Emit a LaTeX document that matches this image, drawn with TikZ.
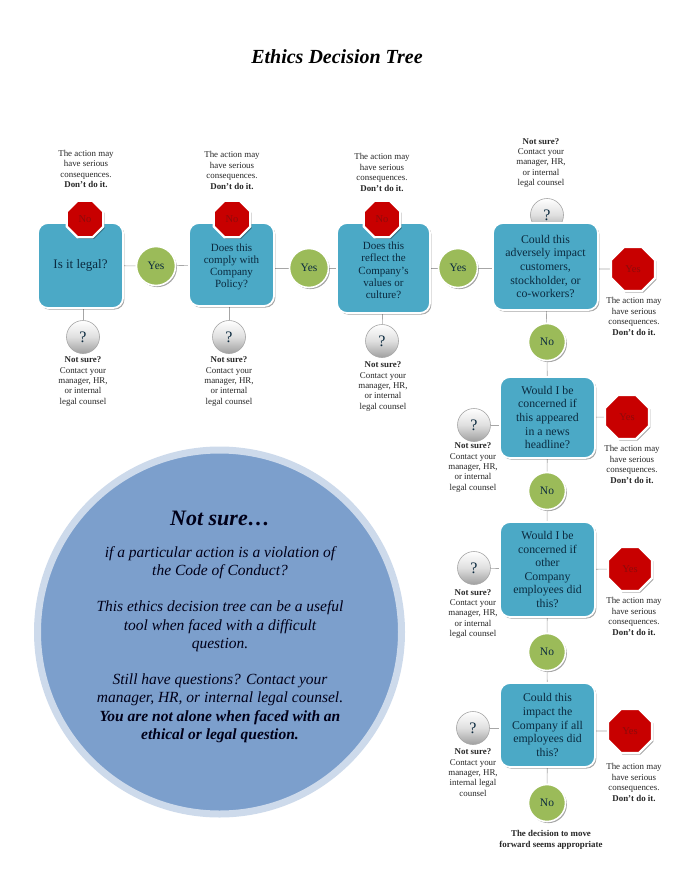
\documentclass[tikz,border=0pt]{standalone}
\usepackage{fontspec}
\setmainfont{Liberation Serif}
\usepackage{tikz}
\usetikzlibrary{shapes.geometric,shadows,backgrounds}
\definecolor{boxblue}{HTML}{4BA9C6}
\definecolor{yesgreen}{HTML}{9BBB59}
\definecolor{stopred}{HTML}{C80000}
\definecolor{stoptext}{HTML}{8E0A0A}
\definecolor{darktext}{HTML}{0B2A3F}
\definecolor{discblue}{HTML}{7C9FCC}
\definecolor{discring}{HTML}{CDDAEB}
\newcommand{\dontdo}{The action may\\have serious\\consequences.\\\textbf{Don’t do it.}}
\newcommand{\notsure}{\textbf{Not sure?}\\Contact your\\manager, HR,\\or internal\\legal counsel}

\begin{document}
\begin{tikzpicture}[x=1pt, y=-1pt,
    softshadow/.style={drop shadow={shadow xshift=1.4pt, shadow yshift=-1.6pt, opacity=0.35, fill=black}},
    question/.style={rectangle, rounded corners=10pt, fill=boxblue, draw=white, line width=1.8pt, softshadow,
        inner sep=0pt, align=center, text=darktext, font=\fontsize{11.8}{13.6}\selectfont},
    narrow text/.style={font=\fontsize{11}{12.2}\selectfont},
    answer/.style={circle, fill=yesgreen, draw=white, line width=1.6pt, softshadow, minimum size=39pt,
        inner sep=0pt, text=darktext, font=\fontsize{11.5}{12}\selectfont},
    stopsign/.style={regular polygon, regular polygon sides=8, fill=stopred, draw=white,
        line width=2.2pt, softshadow, inner sep=0pt, text=stoptext, font=\fontsize{10.5}{12}\selectfont},
    small stop/.style={stopsign, minimum size=39.5pt},
    big stop/.style={stopsign, minimum size=47.5pt},
    unsure/.style={circle, top color=white, bottom color=gray!75, middle color=gray!25, draw=gray!70, line width=0.6pt,
        minimum size=33pt, inner sep=0pt, text=darktext, font=\fontsize{16}{17}\selectfont},
    note/.style={align=center, inner sep=0pt, text=black!85, font=\fontsize{8.9}{10.4}\selectfont},
    link/.style={draw=gray!70, line width=0.6pt}]
    \useasboundingbox (0,0) rectangle (680,880);

    % Title
    \node[inner sep=0pt, font=\fontsize{20}{24}\selectfont\bfseries\itshape] (title) at (337,57) {Ethics Decision Tree};

    % Disc with the advice
    \node[circle, fill=discblue, draw=discring, line width=7pt, minimum size=364pt, inner sep=0pt] (disc) at (219.5,632) {};
    \node[inner sep=0pt, text=black!90!blue, font=\fontsize{22}{26}\selectfont\bfseries\itshape] (disctitle) at (220,518) {Not sure…};
    \node[align=center, inner sep=0pt, text=black!90!blue, font=\fontsize{15.5}{18.2}\selectfont\itshape] (disctext) at (220,644.5)
        {if a particular action is a violation of\\the Code of Conduct?\\[18.2pt]
         This ethics decision tree can be a useful\\tool when faced with a difficult\\question.\\[18.2pt]
         Still have questions? Contact your\\manager, HR, or internal legal counsel.\\
         \textbf{You are not alone when faced with an}\\\textbf{ethical or legal question.}};

    % Top row
    \node[question, minimum width=85pt, minimum height=85pt, font=\fontsize{13}{14}\selectfont] (box1) at (80.5,265.5) {Is it legal?};
    \node[small stop] (stop1) at (85,219) {No};
    \node[answer] (yes1) at (156,266) {Yes};
    \node[unsure] (ask1) at (83,337) {?};
    \node[note] (warn1) at (86,169) {\dontdo};
    \node[note] (help1) at (83,381.5) {\notsure};

    \node[question, narrow text, minimum width=85pt, minimum height=83pt] (box2) at (231.5,264.5) {\\Does this\\comply with\\Company\\Policy?};
    \node[small stop] (stop2) at (232,219) {No};
    \node[answer] (yes2) at (309,268) {Yes};
    \node[unsure] (ask2) at (229,337) {?};
    \node[note] (warn2) at (232,170.5) {\dontdo};
    \node[note] (help2) at (229,381.5) {\notsure};

    \node[question, narrow text, minimum width=93pt, minimum height=90pt] (box3) at (383.5,268) {\\Does this\\reflect the\\Company’s\\values or\\culture?};
    \node[small stop] (stop3) at (382,219) {No};
    \node[answer] (yes3) at (458,268) {Yes};
    \node[unsure] (ask3) at (382,341) {?};
    \node[note] (warn3) at (382,172.5) {\dontdo};
    \node[note] (help3) at (383,386.5) {\notsure};

    \node[unsure] (ask4) at (547,215) {?};
    \node[question, minimum width=105pt, minimum height=87pt] (box4) at (545.5,266.5) {Could this\\adversely impact\\customers,\\stockholder, or\\co-workers?};
    \node[big stop] (stop4) at (633,269) {Yes};
    \node[answer, minimum size=37pt] (no4) at (547,342) {No};
    \node[note] (help4) at (541,163) {\notsure};
    \node[note] (warn4) at (634,316.5) {\dontdo};

    % Right column
    \node[question, minimum width=95pt, minimum height=81pt] (box5) at (547.5,417.5) {Would I be\\concerned if\\this appeared\\in a news\\headline?};
    \node[big stop] (stop5) at (627,417) {Yes};
    \node[answer, minimum size=37pt] (no5) at (547,491) {No};
    \node[unsure] (ask5) at (474,425) {?};
    \node[note] (help5) at (473,467.5) {\notsure};
    \node[note] (warn5) at (632,464.5) {\dontdo};

    \node[question, minimum width=95pt, minimum height=95pt] (box6) at (547.5,569.5) {Would I be\\concerned if\\other\\Company\\employees did\\this?};
    \node[big stop] (stop6) at (630,569) {Yes};
    \node[answer, minimum size=37pt] (no6) at (547,652) {No};
    \node[unsure] (ask6) at (474,568) {?};
    \node[note] (help6) at (473,614) {\notsure};
    \node[note] (warn6) at (634,616.5) {\dontdo};

    \node[question, minimum width=95pt, minimum height=84pt] (box7) at (547.5,725) {Could this\\impact the\\Company if all\\employees did\\this?};
    \node[big stop] (stop7) at (630,731) {Yes};
    \node[answer, minimum size=37pt] (no7) at (547,803) {No};
    \node[unsure] (ask7) at (473,728) {?};
    \node[note] (help7) at (473,772.5) {\textbf{Not sure?}\\Contact your\\manager, HR,\\internal legal\\counsel};
    \node[note] (warn7) at (634,782.5) {\dontdo};
    \node[note, font=\fontsize{8.9}{10.8}\selectfont\bfseries] (end) at (551,839.5) {The decision to move\\forward seems appropriate};

    % Connectors
    \begin{pgfonlayer}{background}
        \draw[link] (box1) -- (yes1);
        \draw[link] (yes1) -- (box2);
        \draw[link] (yes2 -| box2.east) -- (yes2);
        \draw[link] (yes2) -- (box3);
        \draw[link] (box3) -- (yes3);
        \draw[link] (yes3) -- (yes3 -| box4.west);
        \draw[link] (ask1 |- box1.south) -- (ask1);
        \draw[link] (ask2 |- box2.south) -- (ask2);
        \draw[link] (box3) -- (ask3);
        \draw[link] (stop4 -| box4.east) -- (stop4);
        \draw[link] (box4) -- (no4);
        \draw[link] (no4) -- (box5);
        \draw[link] (box5) -- (stop5);
        \draw[link] (ask5) -- (ask5 -| box5.west);
        \draw[link] (box5) -- (no5);
        \draw[link] (no5) -- (box6);
        \draw[link] (box6) -- (stop6);
        \draw[link] (ask6) -- (box6);
        \draw[link] (box6) -- (no6);
        \draw[link] (no6) -- (box7);
        \draw[link] (stop7 -| box7.east) -- (stop7);
        \draw[link] (ask7) -- (ask7 -| box7.west);
        \draw[link] (box7) -- (no7);
    \end{pgfonlayer}
\end{tikzpicture}
\end{document}
